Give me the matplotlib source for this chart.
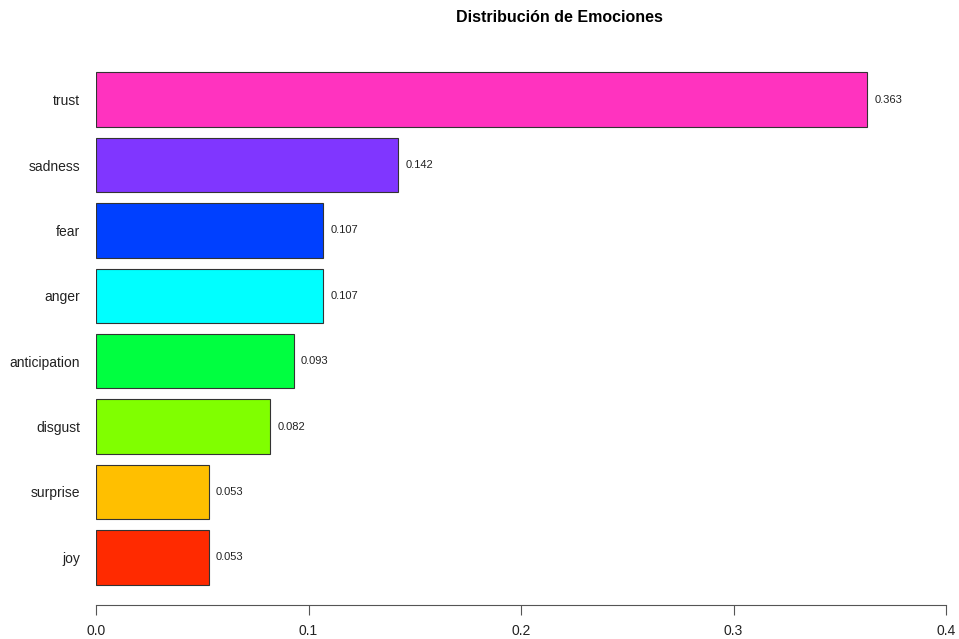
import matplotlib.pyplot as plt

emotions = ["joy", "surprise", "disgust", "anticipation", "anger", "fear", "sadness", "trust"]
proportions = [0.053, 0.053, 0.082, 0.093, 0.107, 0.107, 0.142, 0.363]
bar_colors = ["#FF2A00", "#FFBF00", "#80FF00", "#00FF40", "#00FFFF", "#0040FF", "#8036FF", "#FF33BF"]
x_ticks = [0.0, 0.1, 0.2, 0.3, 0.4]

plt.rcParams["font.family"] = ["Liberation Sans", "DejaVu Sans"]

fig = plt.figure(figsize=(9.59, 6.39), dpi=100)
ax = fig.add_axes([96 / 959, 1 - 605 / 639, 850 / 959, 553 / 639])

# R barplot layout: width 1, space 0.2
y_pos = [0.7 + 1.2 * i for i in range(len(emotions))]
ax.barh(y_pos, proportions, height=1.0, color=bar_colors,
        edgecolor="#333333", linewidth=0.8)

for y, v in zip(y_pos, proportions):
    ax.text(v + 0.0035, y, f"{v:.3f}", va="center", ha="left",
            fontsize=8, color="#222222")

ax.set_xlim(0, 0.4)
ax.set_ylim(-0.176, 9.976)
ax.set_yticks(y_pos)
ax.set_yticklabels(emotions, fontsize=10, color="#222222")
ax.tick_params(axis="y", length=0, pad=11.5)
ax.set_xticks(x_ticks)
ax.set_xticklabels([f"{t:.1f}" for t in x_ticks], fontsize=10, color="#222222")
ax.tick_params(axis="x", length=7, width=0.8, color="#555555", pad=6.5)

for side in ["top", "right", "left"]:
    ax.spines[side].set_visible(False)
ax.spines["bottom"].set_color("#555555")
ax.spines["bottom"].set_linewidth(0.8)

fig.text(559 / 959, 1 - 18 / 639, "Distribución de Emociones", ha="center",
         va="center", fontsize=11.5, fontweight="bold")

fig.savefig("out.png", dpi=100)
